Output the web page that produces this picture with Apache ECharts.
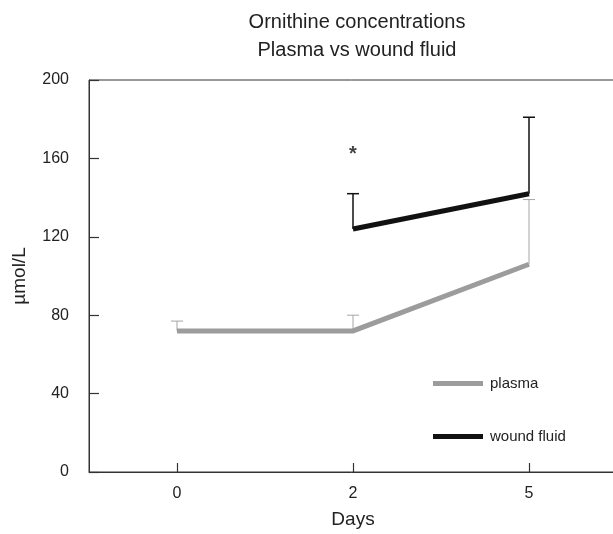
<!DOCTYPE html>
<html>
<head>
<meta charset="utf-8">
<script src="https://cdn.jsdelivr.net/npm/echarts@6/dist/echarts.min.js"></script>
<style>
  html, body { margin: 0; padding: 0; background: #fff; }
  #chart { width: 613px; height: 534px; }
</style>
</head>
<body>
<div id="chart"></div>
<script>
    // 数据
    var days = ['0', '2', '5'];
    var plasma = [72, 72, 106];
    var plasmaErr = [77, 80, 139];
    var wound = [null, 124, 142];
    var woundErr = [null, 142, 181];
    var starPoint = ['2', 163];
    var yTicks = [0, 40, 80, 120, 160, 200];

    var chart = echarts.init(document.getElementById('chart'));

    // 误差线 (竖线 + 顶帽)
    function errData(mean, top) {
        var out = [];
        for (let i = 0; i < days.length; i++) {
            if (mean[i] != null) out.push([i, mean[i], top[i]]);
        }
        return out;
    }
    function errRender(color, width) {
        return function (params, api) {
            var p0 = api.coord([api.value(0), api.value(1)]);
            var p1 = api.coord([api.value(0), api.value(2)]);
            var cap = 6;
            return {
                type: 'group',
                children: [
                    { type: 'line', shape: { x1: p0[0], y1: p0[1], x2: p1[0], y2: p1[1] }, style: { stroke: color, lineWidth: width } },
                    { type: 'line', shape: { x1: p1[0] - cap, y1: p1[1], x2: p1[0] + cap, y2: p1[1] }, style: { stroke: color, lineWidth: width } }
                ]
            };
        };
    }

    var font = 'Liberation Sans, Arial, sans-serif';

    var option = {
        animation: false,
        textStyle: { fontFamily: font, color: '#222' },
        title: {
            text: 'Ornithine concentrations\nPlasma vs wound fluid',
            left: 352,
            top: 3,
            textAlign: 'center',
            textStyle: { fontFamily: font, fontSize: 20, fontWeight: 'normal', color: '#222', lineHeight: 28 }
        },
        legend: {
            data: ['plasma', 'wound fluid'],
            orient: 'vertical',
            left: 428,
            top: 371,
            itemGap: 38,
            itemWidth: 50,
            itemHeight: 5,
            icon: 'rect',
            textStyle: { fontFamily: font, fontSize: 15, color: '#222', padding: [0, 0, 0, 2] }
        },
        grid: {
            left: 89,
            top: 80,
            width: 528,
            bottom: 62,
            outerBoundsMode: 'none',
            containLabel: false,
            show: true,
            borderColor: '#333',
            borderWidth: 1
        },
        xAxis: {
            type: 'category',
            data: days,
            boundaryGap: true,
            name: 'Days',
            nameLocation: 'middle',
            nameGap: 38,
            nameTextStyle: { fontSize: 19, color: '#222' },
            axisLine: { lineStyle: { color: '#333', width: 1 } },
            axisTick: { show: true, inside: true, length: 9, alignWithLabel: true, lineStyle: { color: '#333', width: 1.2 } },
            axisLabel: { fontSize: 16, color: '#222', margin: 14 },
            splitLine: { show: false }
        },
        yAxis: {
            type: 'value',
            min: yTicks[0],
            max: yTicks[yTicks.length - 1],
            interval: 40,
            name: 'µmol/L',
            nameLocation: 'middle',
            nameGap: 60,
            nameTextStyle: { fontSize: 19, color: '#222' },
            axisLine: { show: true, lineStyle: { color: '#333', width: 1 } },
            axisTick: { show: true, inside: true, length: 10, lineStyle: { color: '#333', width: 1.2 } },
            axisLabel: { fontSize: 16, color: '#222', margin: 20 },
            splitLine: { show: false }
        },
        series: [
            {
                name: 'plasma-err',
                type: 'custom',
                renderItem: errRender('#a6a6a6', 1),
                data: errData(plasma, plasmaErr),
                z: 1
            },
            {
                name: 'wound-err',
                type: 'custom',
                renderItem: errRender('#111', 1.5),
                data: errData(wound, woundErr),
                z: 1
            },
            {
                name: 'plasma',
                type: 'line',
                data: plasma,
                color: '#9c9c9c',
                showSymbol: false,
                symbol: 'none',
                lineStyle: { width: 5, color: '#9c9c9c', join: 'miter' },
                z: 2
            },
            {
                name: 'wound fluid',
                type: 'line',
                data: wound,
                color: '#111',
                showSymbol: false,
                symbol: 'none',
                lineStyle: { width: 5, color: '#111', join: 'miter' },
                z: 3
            },
            {
                name: 'sig',
                type: 'scatter',
                symbolSize: 0,
                data: [starPoint],
                label: { show: true, position: 'inside', formatter: '*', fontSize: 20, fontWeight: 'bold', color: '#111', offset: [0, 2] }
            }
        ]
    };

    chart.setOption(option);
</script>
</body>
</html>
